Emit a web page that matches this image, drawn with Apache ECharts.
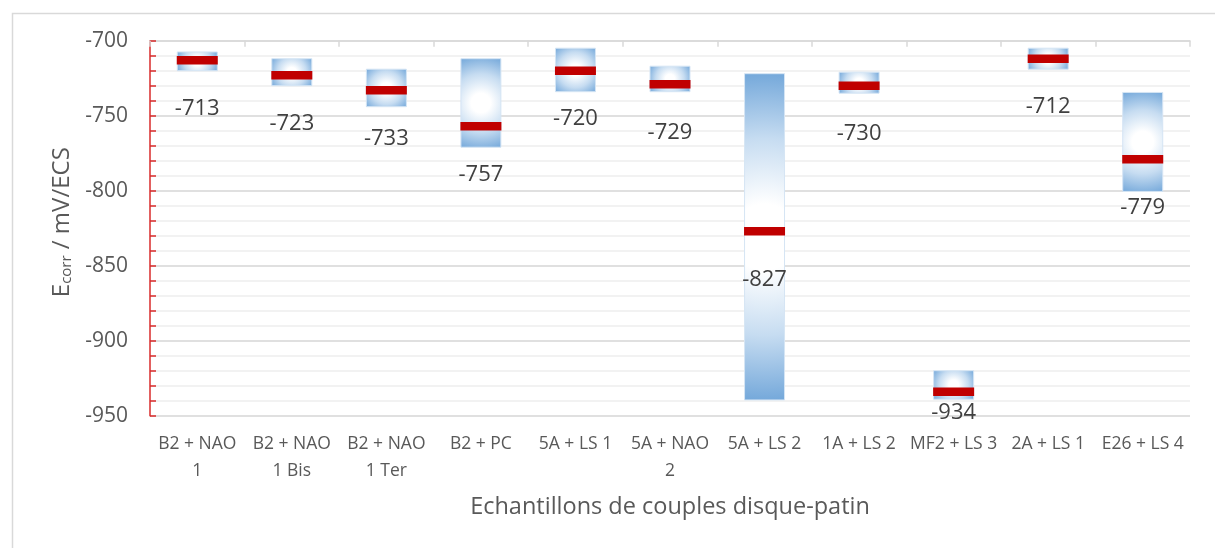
<!DOCTYPE html>
<html>
<head>
<meta charset="utf-8">
<script src="https://cdn.jsdelivr.net/npm/echarts@6/dist/echarts.min.js"></script>
<style>
  html, body { margin: 0; padding: 0; background: #ffffff; }
  #chart { width: 1215px; height: 548px; }
</style>
</head>
<body>
<div id="chart"></div>
<script>
// Sample pairs (disc + pad)
const categories = [
  'B2 + NAO\n1', 'B2 + NAO\n1 Bis', 'B2 + NAO\n1 Ter', 'B2 + PC', '5A + LS 1',
  '5A + NAO\n2', '5A + LS 2', '1A + LS 2', 'MF2 + LS 3', '2A + LS 1', 'E26 + LS 4'
];
// Range of measured Ecorr (mV/ECS): upper and lower bound
const highVals = [-707.5, -712, -719, -712, -705, -717, -722, -721, -920, -705, -734.5];
const lowVals  = [-720, -730, -744, -771, -734, -734, -939.5, -735, -939, -719, -800.5];
// Mean Ecorr (mV/ECS)
const meanVals = [-713, -723, -733, -757, -720, -729, -827, -730, -934, -712, -779];
// Y axis ticks
const yMin = -950, yMax = -700, yStep = 50;

const FONT = '"Open Sans", "Noto Sans", sans-serif';
const chart = echarts.init(document.getElementById('chart'), null, { renderer: 'canvas' });

const rangeData = categories.map((c, i) => [i, lowVals[i], highVals[i]]);
const meanData = categories.map((c, i) => ({
  value: [i, meanVals[i]],
  label: { distance: meanVals[i] < -930 ? 6 : 33 }
}));

function renderRange(params, api) {
  const i = api.value(0);
  const top = api.coord([i, api.value(2)]);
  const bot = api.coord([i, api.value(1)]);
  const w = api.size([1, 0])[0] * 0.423;
  const x = top[0] - w / 2;
  const y = top[1];
  const h = bot[1] - top[1];
  const cx = top[0], cy = y + h / 2;
  const r = Math.sqrt(w * w + h * h) / 2;
  return {
    type: 'rect',
    shape: { x: x, y: y, width: w, height: h },
    style: {
      fill: {
        type: 'radial', x: cx, y: cy, r: r, global: true,
        colorStops: [
          { offset: 0, color: '#ffffff' },
          { offset: 0.2, color: '#ffffff' },
          { offset: 0.6, color: '#c6dcf1' },
          { offset: 1, color: '#74a8da' }
        ]
      },
      stroke: '#d5e5f4',
      lineWidth: 1
    }
  };
}

const option = {
  backgroundColor: '#ffffff',
  animation: false,
  graphic: [{
    type: 'rect',
    left: 10, top: 11,
    shape: { width: 1400, height: 800 },
    style: { fill: 'none', stroke: '#d9d9d9', lineWidth: 1.5 },
    silent: true
  }],
  grid: { left: 150, right: 25, top: 40.7, bottom: 132.3, containLabel: false },
  xAxis: [{
    type: 'category',
    data: categories,
    position: 'bottom',
    axisLine: { show: false },
    axisTick: { show: false },
    axisLabel: {
      interval: 0, color: '#595959', fontFamily: FONT, fontSize: 17.5,
      lineHeight: 27, margin: 15
    },
    name: 'Echantillons de couples disque-patin',
    nameLocation: 'middle',
    nameGap: 80,
    nameTextStyle: { color: '#595959', fontFamily: FONT, fontSize: 23.5 }
  }, {
    type: 'category',
    data: categories,
    position: 'top',
    axisLine: { show: true, lineStyle: { color: '#d9d9d9', width: 1.5 } },
    axisTick: { show: true, inside: true, length: 6, lineStyle: { color: '#d9d9d9', width: 1.5 } },
    axisLabel: { show: false }
  }],
  yAxis: {
    type: 'value',
    min: yMin, max: yMax, interval: yStep,
    axisLine: { show: true, lineStyle: { color: '#d92b2b', width: 1.5 } },
    axisTick: { show: true, inside: true, length: 6, lineStyle: { color: '#d92b2b', width: 1.5 } },
    minorTick: { show: true, splitNumber: 5, length: 6, lineStyle: { color: '#d92b2b', width: 1.5 } },
    splitLine: { show: true, lineStyle: { color: '#d6d6d6', width: 1.5 } },
    minorSplitLine: { show: true, lineStyle: { color: '#eeeeee', width: 1.5 } },
    axisLabel: { color: '#595959', fontFamily: FONT, fontSize: 21, margin: 22 },
    name: '{m|E}{s|corr}{m| / mV/ECS}',
    nameLocation: 'middle',
    nameGap: 76,
    nameRotate: 90,
    nameTextStyle: {
      color: '#595959', fontFamily: FONT, fontSize: 24,
      padding: [0, 0, 0, 12],
      rich: {
        m: { fontSize: 24, fontFamily: FONT, color: '#595959', verticalAlign: 'bottom', lineHeight: 30 },
        s: { fontSize: 15, fontFamily: FONT, color: '#595959', verticalAlign: 'bottom', lineHeight: 22 }
      }
    }
  },
  series: [{
    type: 'custom',
    xAxisIndex: 0,
    renderItem: renderRange,
    encode: { x: 0, y: [1, 2] },
    data: rangeData,
    z: 2
  }, {
    type: 'scatter',
    xAxisIndex: 0,
    symbol: 'rect',
    symbolSize: [41, 8.5],
    itemStyle: { color: '#c00000', opacity: 1 },
    label: {
      show: true, position: 'bottom',
      color: '#404040', fontFamily: FONT, fontSize: 22,
      formatter: p => String(p.value[1])
    },
    data: meanData,
    z: 5
  }]
};
chart.setOption(option);
</script>
</body>
</html>
